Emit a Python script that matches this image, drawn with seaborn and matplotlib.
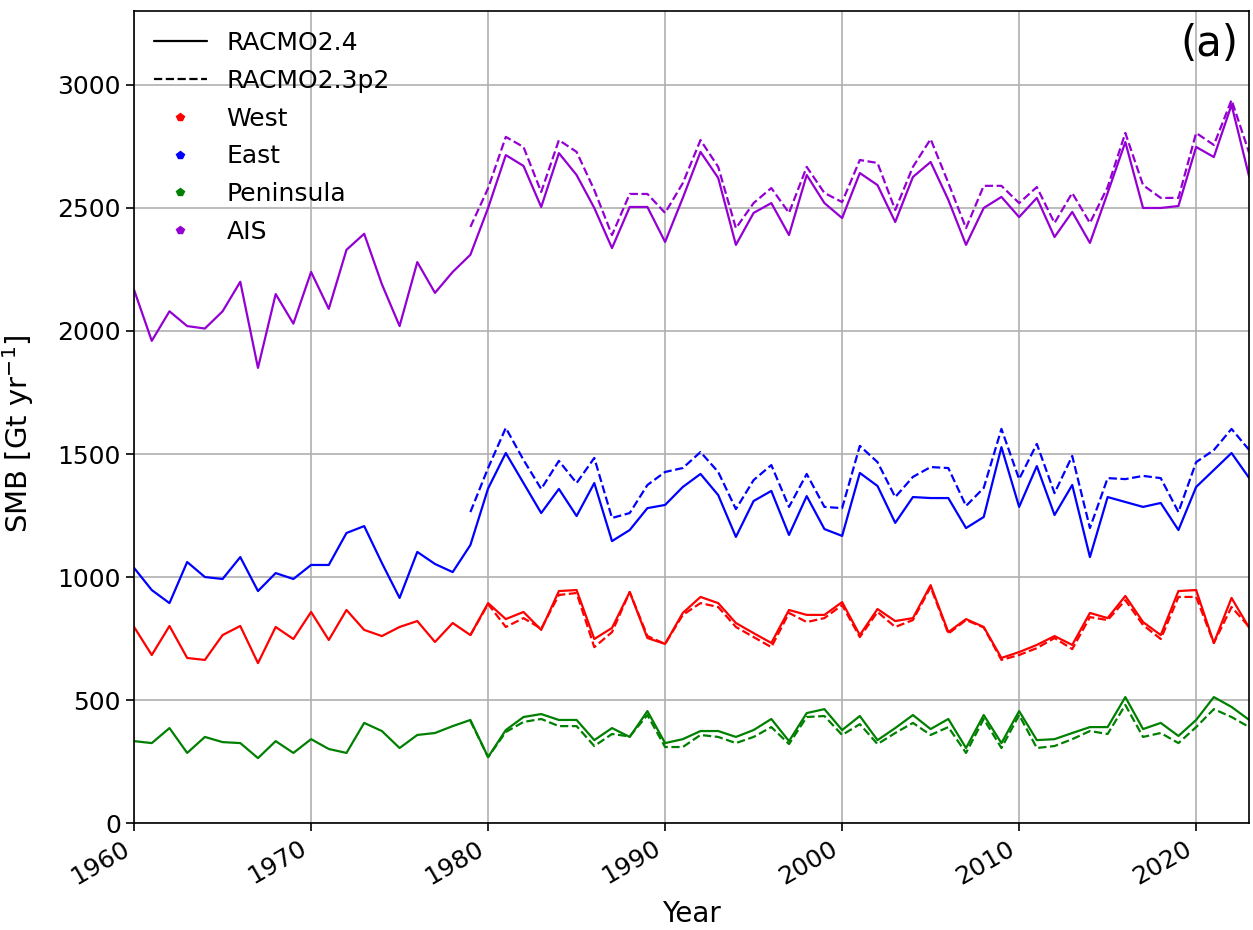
import pandas as pd
import seaborn as sns
import matplotlib.pyplot as plt
from matplotlib.lines import Line2D

# years covered by each model run
years_r24 = list(range(1960, 2024))
years_r23 = list(range(1979, 2024))

# RACMO2.4 (solid), Gt/yr
west_r24 = [797, 683, 801, 671, 663, 764, 801, 650, 797, 748,
            858, 744, 866, 785, 760, 797, 821, 736, 813, 764,
            894, 829, 858, 785, 943, 947, 748, 793, 939, 752,
            728, 854, 919, 894, 813, 772, 732, 866, 846, 846,
            898, 764, 870, 821, 833, 967, 776, 829, 797, 671,
            695, 724, 760, 724, 854, 833, 923, 817, 764, 943,
            947, 732, 915, 793]
east_r24 = [1037, 947, 894, 1061, 1000, 992, 1081, 943, 1016, 992,
            1049, 1049, 1179, 1207, 1057, 915, 1102, 1053, 1020, 1130,
            1360, 1504, 1382, 1260, 1358, 1248, 1382, 1146, 1191, 1280,
            1293, 1366, 1419, 1333, 1163, 1309, 1350, 1171, 1329, 1195,
            1167, 1423, 1370, 1220, 1325, 1321, 1321, 1199, 1244, 1528,
            1285, 1451, 1252, 1374, 1081, 1325, 1305, 1285, 1301, 1191,
            1366, 1435, 1504, 1402]
pen_r24 = [333, 325, 386, 285, 350, 329, 325, 264, 333, 285,
           341, 301, 285, 407, 374, 305, 358, 366, 394, 419,
           268, 378, 431, 443, 419, 419, 337, 386, 350, 455,
           325, 341, 374, 374, 350, 378, 423, 333, 447, 463,
           378, 435, 337, 386, 439, 382, 423, 305, 439, 325,
           455, 337, 341, 366, 390, 390, 512, 382, 407, 354,
           419, 512, 472, 419]
ais_r24 = [2167, 1960, 2080, 2020, 2010, 2080, 2200, 1850, 2150, 2030,
           2240, 2090, 2330, 2395, 2190, 2020, 2280, 2155, 2240, 2310,
           2500, 2715, 2671, 2504, 2723, 2634, 2500, 2337, 2504, 2504,
           2362, 2541, 2728, 2622, 2350, 2480, 2520, 2390, 2634, 2520,
           2459, 2642, 2593, 2443, 2626, 2687, 2533, 2350, 2500, 2545,
           2463, 2541, 2382, 2484, 2358, 2561, 2768, 2500, 2500, 2508,
           2748, 2707, 2919, 2626]

# RACMO2.3p2 (dashed), Gt/yr
west_r23 = [764,
            890, 797, 833, 790, 927, 935, 715, 776, 939, 760,
            728, 846, 894, 878, 797, 756, 715, 854, 817, 833,
            886, 756, 858, 797, 825, 959, 770, 825, 795, 663,
            683, 711, 752, 707, 837, 825, 906, 805, 748, 919,
            919, 732, 878, 797]
east_r23 = [1264,
            1443, 1606, 1476, 1358, 1472, 1382, 1484, 1240, 1260, 1374,
            1427, 1443, 1508, 1427, 1276, 1394, 1455, 1285, 1419, 1285,
            1280, 1533, 1467, 1325, 1407, 1447, 1443, 1289, 1362, 1602,
            1398, 1541, 1341, 1492, 1199, 1402, 1398, 1411, 1402, 1264,
            1467, 1516, 1602, 1516]
pen_r23 = [415,
           268, 370, 411, 423, 394, 394, 313, 362, 352, 439,
           309, 309, 358, 350, 325, 350, 390, 321, 431, 435,
           358, 402, 321, 366, 407, 358, 390, 285, 423, 305,
           439, 305, 313, 341, 374, 362, 480, 350, 366, 325,
           390, 463, 431, 390]
ais_r23 = [2423,
           2580, 2789, 2748, 2565, 2776, 2728, 2573, 2390, 2557, 2557,
           2480, 2601, 2776, 2667, 2418, 2520, 2581, 2480, 2667, 2561,
           2524, 2695, 2683, 2492, 2667, 2780, 2602, 2418, 2590, 2590,
           2520, 2585, 2439, 2561, 2439, 2585, 2805, 2593, 2541, 2541,
           2805, 2756, 2939, 2723]

regions = ["West", "East", "Peninsula", "AIS"]
models = ["RACMO2.4", "RACMO2.3p2"]
colors = {"West": "red", "East": "blue", "Peninsula": "green", "AIS": "darkviolet"}

frames = []
for reg, v24, v23 in zip(regions,
                         [west_r24, east_r24, pen_r24, ais_r24],
                         [west_r23, east_r23, pen_r23, ais_r23]):
    frames.append(pd.DataFrame({"year": years_r24, "smb": v24,
                                "region": reg, "model": "RACMO2.4"}))
    frames.append(pd.DataFrame({"year": years_r23, "smb": v23,
                                "region": reg, "model": "RACMO2.3p2"}))
df = pd.concat(frames, ignore_index=True)

sns.set_style("ticks", {"text.color": "black", "axes.labelcolor": "black",
                        "xtick.color": "black", "ytick.color": "black",
                        "axes.edgecolor": "black"})
plt.rcParams["font.family"] = ["DejaVu Sans"]

fig = plt.figure(figsize=(12.53, 9.3), dpi=100)
ax = fig.add_axes([0.107, 0.115, 0.890, 0.873])

sns.lineplot(data=df, x="year", y="smb", hue="region", style="model",
             hue_order=regions, style_order=models, palette=colors,
             dashes={"RACMO2.4": "", "RACMO2.3p2": (3.7, 1.6)},
             errorbar=None, linewidth=1.6, legend=False, ax=ax)

ax.set_xlim(1960, 2023)
ax.set_ylim(0, 3300)
ax.set_xticks(range(1960, 2021, 10))
ax.set_yticks(range(0, 3001, 500))
ax.grid(True, color="#b0b0b0", linewidth=1.2)
ax.tick_params(labelsize=18, direction="out", length=6, width=1.2)
plt.setp(ax.get_xticklabels(), rotation=30, ha="right")
for sp in ax.spines.values():
    sp.set_linewidth(1.2)

ax.set_xlabel("Year", fontsize=20, labelpad=8)
ax.set_ylabel("SMB [Gt yr$^{-1}$]", fontsize=21, labelpad=10)
ax.yaxis.set_label_coords(-0.088, 0.48)
ax.text(0.99, 0.985, "(a)", transform=ax.transAxes, ha="right", va="top", fontsize=30)

handles = [Line2D([], [], color="black", lw=1.6, ls="-"),
           Line2D([], [], color="black", lw=1.6, ls="--")]
handles += [Line2D([], [], color=colors[r], marker="p", ls="none", markersize=6)
            for r in regions]
ax.legend(handles, models + regions, loc="upper left", frameon=False,
          fontsize=18, handlelength=2.1, labelspacing=0.55,
          borderaxespad=0.4)

fig.savefig("out.png", dpi=100)
